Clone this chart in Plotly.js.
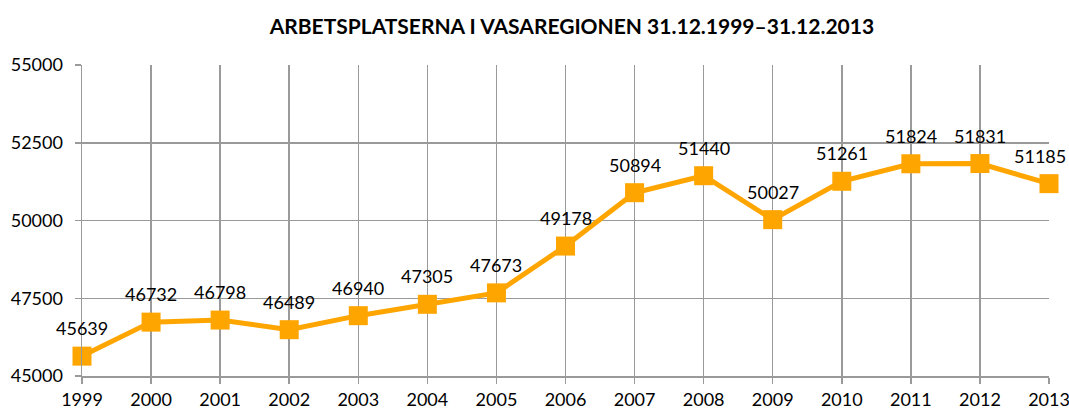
<!DOCTYPE html>
<html>
<head>
<meta charset="utf-8">
<script src="https://cdn.plot.ly/plotly-3.0.1.min.js"></script>
<style>html,body{margin:0;padding:0;background:#fff;}#chart{width:1069px;height:409px;}</style>
</head>
<body>
<div id="chart"></div>
<script>
const years = [1999,2000,2001,2002,2003,2004,2005,2006,2007,2008,2009,2010,2011,2012,2013];
const workplaces = [45639,46732,46798,46489,46940,47305,47673,49178,50894,51440,50027,51261,51824,51831,51185];
const yTicks = [45000,47500,50000,52500,55000];

const FONT = 'Lato, "Noto Sans", sans-serif';
const trace = {
  x: years, y: workplaces, type: 'scatter', mode: 'lines+markers',
  line: {color: '#FFA500', width: 5},
  marker: {symbol: 'square', size: 19, color: '#FFA500'},
  cliponaxis: false, hoverinfo: 'x+y'
};
const annotations = years.map((yr, i) => ({
  x: yr, y: workplaces[i], xref: 'x', yref: 'y', text: String(workplaces[i]),
  showarrow: false, yshift: 28, xshift: i === years.length - 1 ? -9 : 0,
  font: {family: FONT, size: 18, color: '#000'}
}));
const layout = {
  width: 1069, height: 409,
  margin: {l: 82, r: 20, t: 65, b: 33},
  paper_bgcolor: '#fff', plot_bgcolor: '#fff',
  font: {family: FONT, size: 18, color: '#000'},
  title: {text: '<b>ARBETSPLATSERNA I VASAREGIONEN 31.12.1999–31.12.2013</b>', x: 0.535, xanchor: 'center', y: 0.935, yanchor: 'middle', font: {size: 21, color: '#000'}},
  annotations: annotations,
  xaxis: {range: [1999, 2013], tickvals: years, ticktext: years.map(String), showgrid: true, gridcolor: '#9a9a9a', gridwidth: 1.5,
    ticks: 'outside', ticklen: 6, tickcolor: '#9a9a9a', tickwidth: 1.5, showline: true, linecolor: '#9a9a9a', linewidth: 1.5, zeroline: false, ticklabelstandoff: 1, ticklabeloverflow: 'allow', automargin: false},
  yaxis: {range: [45000, 55000], tickvals: yTicks, ticktext: yTicks.map(String), showgrid: true, gridcolor: '#9a9a9a', gridwidth: 1.5,
    ticks: 'outside', ticklen: 6, tickcolor: '#9a9a9a', tickwidth: 1.5, showline: true, linecolor: '#9a9a9a', linewidth: 1.5, zeroline: false, ticklabelstandoff: 8, automargin: false},
  showlegend: false
};
Plotly.newPlot('chart', [trace], layout, {displayModeBar: false, staticPlot: true});
</script>
</body>
</html>
